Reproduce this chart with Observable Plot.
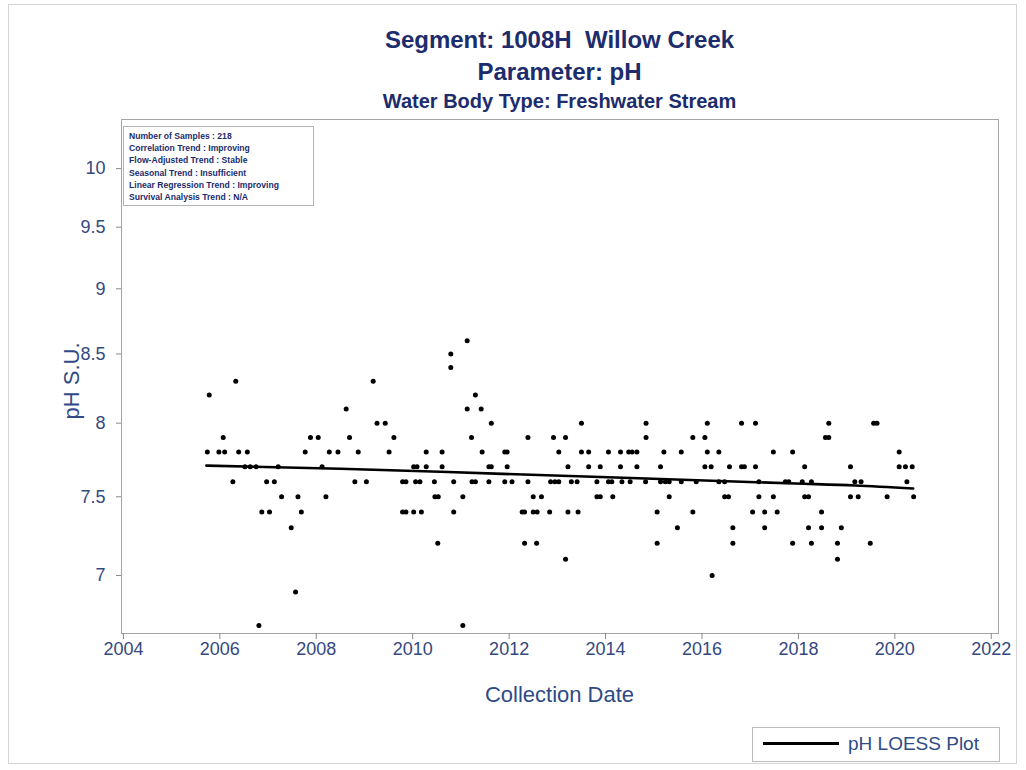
<!DOCTYPE html>
<html><head><meta charset="utf-8">
<script src="https://cdn.jsdelivr.net/npm/d3@7"></script>
<script src="https://cdn.jsdelivr.net/npm/@observablehq/plot@0.6"></script>
<style>
body{margin:0;background:#fff;font-family:"Liberation Sans",Arial,sans-serif;}
#wrap{position:relative;width:1026px;height:770px;overflow:hidden;background:#fff;}
#wrap svg{position:absolute;left:0;top:0;}
.border{position:absolute;left:8px;top:4px;width:1009px;height:760px;border:1px solid #d4d4d4;box-sizing:border-box;}
.t{position:absolute;left:121px;width:877px;text-align:center;color:#1c2c6c;font-weight:bold;white-space:pre;}
.stats{position:absolute;left:123px;top:126px;width:191px;height:80px;border:1px solid #b4b4b4;background:#fff;box-sizing:border-box;padding:3px 0 0 5px;font-size:8.6px;font-weight:bold;line-height:12.2px;color:#1c2c6c;white-space:pre;}
.ylab{position:absolute;left:72px;top:381px;transform:translate(-50%,-50%) rotate(-90deg);font-size:22px;color:#2f4a86;white-space:pre;}
.xlab{position:absolute;left:121px;width:877px;top:682px;text-align:center;font-size:22px;line-height:26px;color:#2f4a86;}
.legend{position:absolute;left:752px;top:727px;width:248px;height:35px;border:1px solid #bcbcbc;box-sizing:border-box;}
.legend .sw{position:absolute;left:10px;top:14px;width:76px;height:3px;background:#000;}
.legend .lt{position:absolute;left:95px;top:5px;font-size:19px;line-height:22px;color:#2f4a86;white-space:pre;}
</style>
</head><body>
<div id="wrap">
  <div class="border"></div>
</div>
<script>
// ---- data ----
const titleLines = ["Segment: 1008H  Willow Creek", "Parameter: pH", "Water Body Type: Freshwater Stream"];
const statsLines = [
  "Number of Samples : 218",
  "Correlation Trend : Improving",
  "Flow-Adjusted Trend : Stable",
  "Seasonal Trend : Insufficient",
  "Linear Regression Trend : Improving",
  "Survival Analysis Trend : N/A"
];
const xTicks = [2004, 2006, 2008, 2010, 2012, 2014, 2016, 2018, 2020, 2022];
const yTicks = [7, 7.5, 8, 8.5, 9, 9.5, 10];
const xLabel = "Collection Date";
const yLabel = "pH S.U.";
const legendLabel = "pH LOESS Plot";

const sampleDate = [
2005.74,2005.78,2005.98,2006.10,2006.07,2006.27,2006.33,2006.39,2006.57,2006.52,
2006.63,2006.75,2006.81,2006.87,2007.03,2006.97,2007.13,2007.21,2007.28,2007.48,
2007.57,2007.62,2007.69,2007.77,2007.88,2008.04,2008.12,2008.20,2008.27,2008.45,
2008.62,2008.69,2008.80,2009.04,2008.87,2009.18,2009.26,2009.43,2009.51,2009.61,
2009.79,2009.86,2009.79,2009.86,2010.02,2010.18,2010.02,2010.09,2010.06,2010.15,
2010.28,2010.28,2010.45,2010.46,2010.53,2010.52,2010.61,2010.61,2010.79,2010.79,
2010.85,2010.85,2011.04,2011.04,2011.13,2011.13,2011.22,2011.23,2011.30,2011.30,
2011.42,2011.44,2011.58,2011.63,2011.58,2011.63,2011.91,2011.96,2011.96,2011.91,
2012.06,2012.39,2012.39,2012.27,2012.32,2012.32,2012.50,2012.67,2012.50,2012.58,
2012.57,2012.84,2012.86,2012.95,2013.03,2012.92,2013.03,2013.17,2013.17,2013.22,
2013.22,2013.29,2013.41,2013.43,2013.50,2013.50,2013.65,2013.65,2013.82,2013.82,
2013.89,2013.89,2014.06,2014.06,2014.13,2014.15,2014.31,2014.31,2014.34,2014.48,
2014.55,2014.65,2014.51,2014.65,2014.84,2014.84,2014.83,2015.14,2015.21,2015.14,
2015.24,2015.32,2015.32,2015.07,2015.07,2015.49,2015.57,2015.57,2015.81,2015.81,
2015.88,2016.06,2016.11,2016.11,2016.06,2016.19,2016.21,2016.35,2016.35,2016.47,
2016.47,2016.55,2016.57,2016.64,2016.64,2016.82,2016.82,2016.88,2017.05,2017.11,
2017.11,2017.18,2017.18,2017.30,2017.30,2017.48,2017.48,2017.56,2017.73,2017.80,
2017.88,2017.88,2018.08,2018.27,2018.13,2018.13,2018.21,2018.21,2018.27,2018.48,
2018.48,2018.56,2018.63,2018.63,2018.81,2018.81,2018.89,2019.08,2019.08,2019.24,
2019.17,2019.30,2019.49,2019.56,2019.63,2019.84,2020.09,2020.09,2020.22,2020.36,
2020.25,2020.39
];
const samplePH = [
7.8,8.2,7.8,7.8,7.9,7.6,8.3,7.8,7.8,7.7,
7.7,7.7,6.7,7.4,7.4,7.6,7.6,7.7,7.5,7.3,
6.9,7.5,7.4,7.8,7.9,7.9,7.7,7.5,7.8,7.8,
8.1,7.9,7.6,7.6,7.8,8.3,8.0,8.0,7.8,7.9,
7.6,7.6,7.4,7.4,7.4,7.4,7.7,7.7,7.6,7.6,
7.7,7.8,7.6,7.5,7.5,7.2,7.8,7.7,8.5,8.4,
7.6,7.4,7.5,6.7,8.6,8.1,7.9,7.6,7.6,8.2,
8.1,7.8,7.7,7.7,7.6,8.0,7.8,7.8,7.7,7.6,
7.6,7.9,7.6,7.4,7.4,7.2,7.5,7.5,7.4,7.4,
7.2,7.4,7.6,7.6,7.6,7.9,7.8,7.9,7.1,7.7,
7.4,7.6,7.6,7.4,8.0,7.8,7.8,7.7,7.6,7.5,
7.5,7.7,7.8,7.6,7.6,7.5,7.8,7.7,7.6,7.8,
7.8,7.8,7.6,7.7,8.0,7.9,7.6,7.7,7.8,7.6,
7.6,7.6,7.5,7.4,7.2,7.3,7.8,7.6,7.9,7.4,
7.6,7.9,8.0,7.8,7.7,7.7,7.0,7.8,7.6,7.6,
7.5,7.5,7.7,7.3,7.2,8.0,7.7,7.7,7.4,8.0,
7.7,7.6,7.5,7.4,7.3,7.8,7.5,7.4,7.6,7.6,
7.8,7.2,7.6,7.6,7.7,7.5,7.5,7.3,7.2,7.4,
7.3,7.9,7.9,8.0,7.2,7.1,7.3,7.7,7.5,7.5,
7.6,7.6,7.2,8.0,8.0,7.5,7.8,7.7,7.7,7.7,
7.6,7.5
];
const loessDate = [2005.72, 2008.50, 2011.71, 2014.83, 2017.94, 2019.18, 2020.38];
const loessPH   = [7.708, 7.687, 7.654, 7.621, 7.588, 7.575, 7.555];

const samples = sampleDate.map((d, i) => ({date: d, ph: samplePH[i]}));
const loess = loessDate.map((d, i) => ({date: d, ph: loessPH[i]}));

const tickColor = "#34497f";
const chart = Plot.plot({
  width: 1026, height: 770,
  marginTop: 119, marginLeft: 121, marginRight: 28, marginBottom: 137,
  style: {background: "transparent", fontFamily: "'Liberation Sans', Arial, sans-serif", fontSize: "18px"},
  x: {domain: [2003.96, 2022.15], label: null},
  y: {type: "log", domain: [6.653, 10.44], label: null},
  marks: [
    Plot.frame({stroke: "#a4a4a4"}),
    Plot.axisX({ticks: xTicks, tickFormat: d3.format("d"), tickSize: 6, tickPadding: 3, stroke: "#8a8a8a", fill: tickColor, fontSize: 18, label: null}),
    Plot.axisY({ticks: yTicks, tickFormat: d => String(d), tickSize: 5, tickPadding: 11, stroke: "#8a8a8a", fill: tickColor, fontSize: 18, label: null}),
    Plot.dot(samples, {x: "date", y: "ph", r: 2.5, fill: "black", stroke: "none"}),
    Plot.line(loess, {x: "date", y: "ph", stroke: "black", strokeWidth: 2.6, curve: "monotone-x"})
  ]
});
const wrap = document.getElementById("wrap");
wrap.appendChild(chart);

function addDiv(cls, text, css) {
  const d = document.createElement("div");
  d.className = cls;
  d.textContent = text;
  Object.assign(d.style, css || {});
  wrap.appendChild(d);
  return d;
}
addDiv("t", titleLines[0], {top: "26px", fontSize: "24px", lineHeight: "28px"});
addDiv("t", titleLines[1], {top: "58px", fontSize: "24px", lineHeight: "28px"});
addDiv("t", titleLines[2], {top: "89px", fontSize: "20px", lineHeight: "24px"});
addDiv("stats", statsLines.join("\n"));
addDiv("ylab", yLabel);
addDiv("xlab", xLabel);
const lg = addDiv("legend", "");
const sw = document.createElement("div"); sw.className = "sw"; lg.appendChild(sw);
const lt = document.createElement("div"); lt.className = "lt"; lt.textContent = legendLabel; lg.appendChild(lt);
</script>
</body></html>
